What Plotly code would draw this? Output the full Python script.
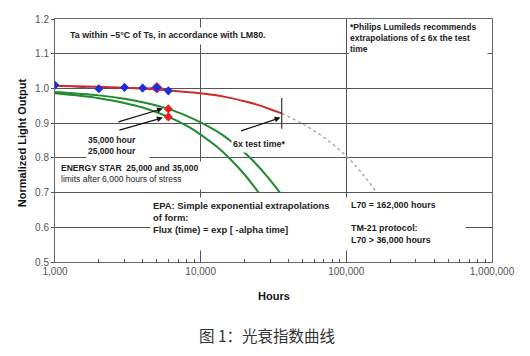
import math
import plotly.graph_objects as go

# ---------------- data ----------------
measured_hours = [1000, 2000, 3000, 4000, 5000, 6000]
measured_output = [1.009, 0.999, 1.003, 1.001, 1.002, 0.993]

highlight_hours = [5000]
highlight_output = [1.002]

fit_hours = [1000, 2000, 3000, 5000, 7000, 10000, 15000, 20000, 25000, 30000, 36000]
fit_output = [1.008, 1.005, 1.002, 0.997, 0.992, 0.986, 0.975, 0.963, 0.952, 0.940, 0.928]

extrap_hours = [36000, 50000, 70000, 100000, 130000, 162000]
extrap_output = [0.928, 0.898, 0.859, 0.805, 0.752, 0.700]

limit35_hours = [1000, 2000, 3000, 4000, 6000, 8000, 10000, 14000, 18000, 22000, 28000, 35000]
limit35_output = [0.990, 0.980, 0.970, 0.960, 0.941, 0.921, 0.902, 0.867, 0.832, 0.799, 0.751, 0.700]

limit25_hours = [1000, 2000, 3000, 4000, 6000, 8000, 10000, 13000, 16000, 20000, 25000]
limit25_output = [0.986, 0.972, 0.958, 0.945, 0.918, 0.893, 0.867, 0.831, 0.796, 0.752, 0.700]

estar_hours = [6000, 6000]
estar_output = [0.941, 0.918]

test6x_hours = [36000]
test6x_output = [0.928]

x_tickvals = [1000, 10000, 100000, 1000000]
x_ticktext = ["1,000", "10,000", "100,000", "1,000,000"]
y_tickvals = [0.5, 0.6, 0.7, 0.8, 0.9, 1.0, 1.1, 1.2]

L = math.log10
TXT = "#222222"
FONT = "Liberation Sans, Arial, sans-serif"

fig = go.Figure()

fig.add_trace(go.Scatter(x=limit35_hours, y=limit35_output, mode="lines",
                         line=dict(color="#1f8a2e", width=2, shape="spline"), hoverinfo="skip"))
fig.add_trace(go.Scatter(x=limit25_hours, y=limit25_output, mode="lines",
                         line=dict(color="#1f8a2e", width=2, shape="spline"), hoverinfo="skip"))
fig.add_trace(go.Scatter(x=extrap_hours, y=extrap_output, mode="lines",
                         line=dict(color="#b89a9a", width=1.3, dash="dot", shape="spline"), hoverinfo="skip"))
fig.add_trace(go.Scatter(x=measured_hours, y=measured_output, mode="lines",
                         line=dict(color="#6a3a9a", width=1), hoverinfo="skip"))
fig.add_trace(go.Scatter(x=fit_hours, y=fit_output, mode="lines",
                         line=dict(color="#d02828", width=2, shape="spline"), hoverinfo="skip"))
fig.add_trace(go.Scatter(x=test6x_hours, y=test6x_output, mode="markers",
                         marker=dict(symbol="line-ns", size=22, line=dict(color="#333333", width=1.2)),
                         hoverinfo="skip"))
fig.add_trace(go.Scatter(x=highlight_hours, y=highlight_output, mode="markers",
                         marker=dict(symbol="diamond", size=9, color="#c02878"), hoverinfo="skip"))
fig.add_trace(go.Scatter(x=measured_hours, y=measured_output, mode="markers",
                         marker=dict(symbol="diamond", size=7, color="#1f2fd6"), hoverinfo="skip"))
fig.add_trace(go.Scatter(x=estar_hours, y=estar_output, mode="markers",
                         marker=dict(symbol="diamond", size=7, color="#e82020"), hoverinfo="skip"))

ann = []

def box(text, x, y, w, h, xanchor="left", yanchor="top", size=8.5, align="left", pad=2):
    ann.append(dict(text=text, x=x, y=y, xref="x", yref="y", xanchor=xanchor, yanchor=yanchor,
                    showarrow=False, bgcolor="white", width=w, height=h, align=align,
                    valign="top", borderpad=pad,
                    font=dict(family=FONT, size=size, color=TXT)))

box("<b>Ta within –5°C of Ts, in accordance with LM80.</b>", L(1210), 1.178, 198, 12, size=8.9)
box("<b>*Philips Lumileds recommends<br>extrapolations of ≤ 6x the test<br>time</b>",
    L(102000), 1.197, 136, 33, pad=1)
box("<b>ENERGY STAR  25,000 and 35,000</b><br>limits after 6,000 hours of stress",
    L(1060), 0.792, 146, 25, pad=1)
box("<b>EPA: Simple exponential extrapolations<br>of form:<br>Flux (time) = exp [ -alpha time]</b>",
    L(4480), 0.686, 195, 48, size=9.4, pad=2)
box("<b>L70 = 162,000 hours<br><br>TM-21 protocol:<br>L70 > 36,000 hours</b>",
    L(102500), 0.686, 112, 48, size=8.9, pad=2)
box("<b>35,000 hour<br>25,000 hour</b>", L(1620), 0.872, 60, 26, pad=1)
box("<b>6x test time*</b>", L(26500), 0.86, 58, 12, xanchor="center", pad=1, size=8.8)

def arrow(x0, y0, x1, y1):
    ann.append(dict(text="", x=L(x1), y=y1, ax=L(x0), ay=y0, xref="x", yref="y",
                    axref="x", ayref="y", showarrow=True, arrowhead=2, arrowsize=0.9,
                    arrowwidth=1.3, arrowcolor="#111111"))

arrow(2660, 0.902, 5500, 0.942)
arrow(2700, 0.879, 5500, 0.916)
arrow(18500, 0.876, 35300, 0.916)

# axis titles and caption (positions in paper units of the plot area)
ann.append(dict(text="<b>Hours</b>", x=0.5, y=-0.138, xref="paper", yref="paper",
                xanchor="center", yanchor="middle", showarrow=False,
                font=dict(family=FONT, size=11, color="#111111")))
ann.append(dict(text="<b>Normalized Light Output</b>", x=-0.075, y=0.49, xref="paper", yref="paper",
                xanchor="center", yanchor="middle", showarrow=False, textangle=-90,
                font=dict(family=FONT, size=11, color="#111111")))
ann.append(dict(text="图 1：光衰指数曲线", x=0.484, y=-0.302, xref="paper", yref="paper",
                xanchor="center", yanchor="middle", showarrow=False,
                font=dict(family="Noto Sans CJK SC", size=15.5, color="#333333")))

# the page body adds an 8px offset, so the figure is slightly smaller than the window
fig.update_layout(
    width=522, height=348,
    margin=dict(l=47, r=38, t=11, b=94, autoexpand=False),
    paper_bgcolor="white", plot_bgcolor="white",
    showlegend=False,
    annotations=ann,
    font=dict(family=FONT, size=10, color="#333333"),
)
fig.update_xaxes(
    type="log", range=[3, 6], automargin=False,
    tickvals=x_tickvals, ticktext=x_ticktext,
    showgrid=True, gridcolor="#555555", gridwidth=1,
    showline=True, linecolor="#666666", linewidth=1, mirror=True,
    ticks="inside", ticklen=6, tickcolor="#555555",
    minor=dict(ticks="inside", ticklen=3, tickcolor="#555555", dtick="D1", showgrid=False),
    tickfont=dict(size=10, color="#555555"),
    zeroline=False,
)
fig.update_yaxes(
    range=[0.5, 1.2], tickvals=y_tickvals, tickformat=".1f", automargin=False,
    showgrid=True, gridcolor="#555555", gridwidth=1,
    showline=True, linecolor="#666666", linewidth=1, mirror=True,
    ticks="outside", ticklen=3, tickcolor="#555555",
    tickfont=dict(size=10, color="#555555"),
    zeroline=False,
)

fig.write_html("out.html")
